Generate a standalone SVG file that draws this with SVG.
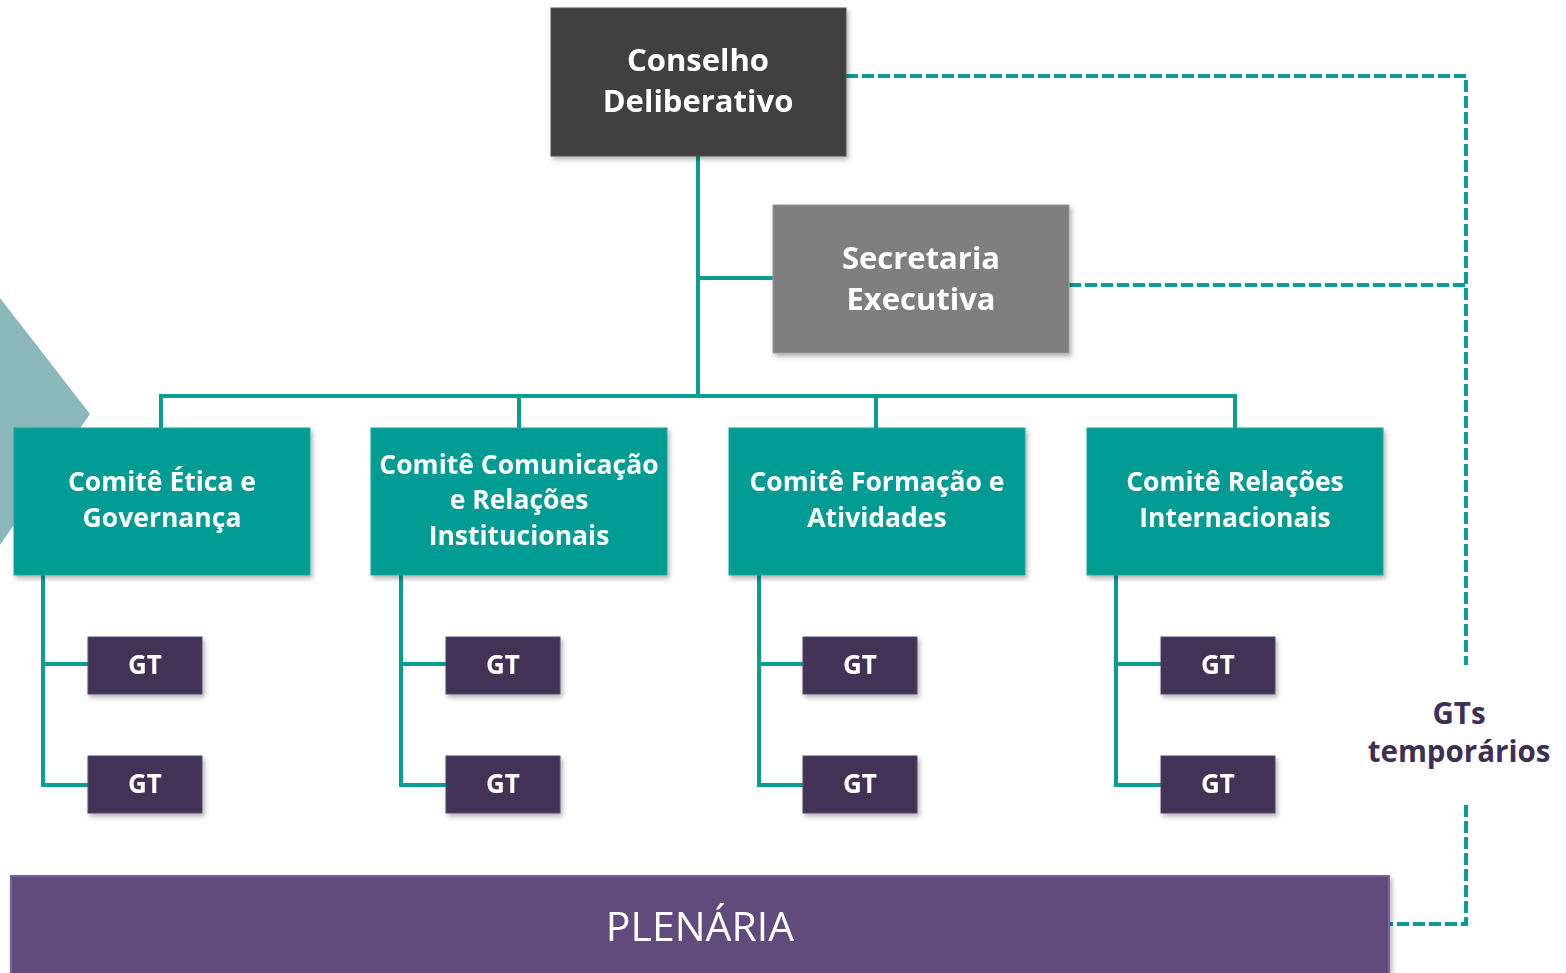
<svg xmlns="http://www.w3.org/2000/svg" width="1566" height="973" viewBox="0 0 1566 973">
<style>
.t{font-family:"Open Sans","Noto Sans",sans-serif;font-weight:bold;fill:#fff;text-anchor:middle}
.big{font-size:31px}
.com{font-size:26.5px}
.gt{font-size:26px}
.sol{stroke:#0a9d94;stroke-width:4;fill:none}
.dash{stroke:#0a9d94;stroke-width:4;fill:none;stroke-dasharray:12 4}
.cbox{fill:#069b93;stroke:#1aa9a0;stroke-width:1}
.gbox{fill:#433254;stroke:#5a4870;stroke-width:1}
</style>
<defs>
<filter id="sh" x="-10%" y="-10%" width="125%" height="130%">
<feDropShadow dx="2" dy="3" stdDeviation="2.5" flood-color="#000" flood-opacity="0.3"/>
</filter>
</defs>
<rect width="1566" height="973" fill="#fff"/>
<polygon points="0,298 90,414 0,545" fill="#8db8bb"/>
<g id="connectors">
<path class="sol" d="M698 156 V396 M698 278 H773 M161 428 V396 H1235 V428 M519 396 V428 M876 396 V428"/>
<path class="sol" d="M43 575 V785 H88 M43 664 H88"/>
<path class="sol" d="M401 575 V785 H446 M401 664 H446"/>
<path class="sol" d="M759 575 V785 H803 M759 664 H803"/>
<path class="sol" d="M1116 575 V785 H1161 M1116 664 H1161"/>
<path class="dash" d="M846 76 H1466 V665 M1069 285 H1466"/>
<path class="dash" d="M1466 805 V924 H1389"/>
</g>
<g id="conselho" filter="url(#sh)">
<rect x="551" y="8" width="295" height="148" fill="#404040" stroke="#555" stroke-width="1"/>
<text class="t big" x="698" y="71">Conselho</text>
<text class="t big" x="698" y="112">Deliberativo</text>
</g>
<g id="secretaria" filter="url(#sh)">
<rect x="773" y="205" width="296" height="148" fill="#7f7f7f" stroke="#999" stroke-width="1"/>
<text class="t big" x="921" y="269">Secretaria</text>
<text class="t big" x="921" y="310">Executiva</text>
</g>
<g id="comite1" filter="url(#sh)">
<rect class="cbox" x="14" y="428" width="296" height="147"/>
<text class="t com" x="162" y="491">Comitê Ética e</text>
<text class="t com" x="162" y="527">Governança</text>
</g>
<g id="comite2" filter="url(#sh)">
<rect class="cbox" x="371" y="428" width="296" height="147"/>
<text class="t com" x="519" y="474">Comitê Comunicação</text>
<text class="t com" x="519" y="509">e Relações</text>
<text class="t com" x="519" y="545">Institucionais</text>
</g>
<g id="comite3" filter="url(#sh)">
<rect class="cbox" x="729" y="428" width="296" height="147"/>
<text class="t com" x="877" y="491">Comitê Formação e</text>
<text class="t com" x="877" y="527">Atividades</text>
</g>
<g id="comite4" filter="url(#sh)">
<rect class="cbox" x="1087" y="428" width="296" height="147"/>
<text class="t com" x="1235" y="491">Comitê Relações</text>
<text class="t com" x="1235" y="527">Internacionais</text>
</g>
<g id="gt1a" filter="url(#sh)"><rect class="gbox" x="88" y="637" width="114" height="57"/><text class="t gt" x="145" y="674">GT</text></g>
<g id="gt1b" filter="url(#sh)"><rect class="gbox" x="88" y="756" width="114" height="57"/><text class="t gt" x="145" y="793">GT</text></g>
<g id="gt2a" filter="url(#sh)"><rect class="gbox" x="446" y="637" width="114" height="57"/><text class="t gt" x="503" y="674">GT</text></g>
<g id="gt2b" filter="url(#sh)"><rect class="gbox" x="446" y="756" width="114" height="57"/><text class="t gt" x="503" y="793">GT</text></g>
<g id="gt3a" filter="url(#sh)"><rect class="gbox" x="803" y="637" width="114" height="57"/><text class="t gt" x="860" y="674">GT</text></g>
<g id="gt3b" filter="url(#sh)"><rect class="gbox" x="803" y="756" width="114" height="57"/><text class="t gt" x="860" y="793">GT</text></g>
<g id="gt4a" filter="url(#sh)"><rect class="gbox" x="1161" y="637" width="114" height="57"/><text class="t gt" x="1218" y="674">GT</text></g>
<g id="gt4b" filter="url(#sh)"><rect class="gbox" x="1161" y="756" width="114" height="57"/><text class="t gt" x="1218" y="793">GT</text></g>
<g id="gts-temporarios">
<text class="t" x="1459" y="724" style="font-size:29.5px;fill:#3f2f55">GTs</text>
<text class="t" x="1459" y="762" style="font-size:29.5px;fill:#3f2f55">temporários</text>
</g>
<g id="plenaria" filter="url(#sh)">
<rect x="11" y="876" width="1378" height="105" fill="#614c7c" stroke="#7e62a6" stroke-width="2"/>
<text x="700" y="941" style="font-family:'Open Sans','Noto Sans',sans-serif;font-size:41px;fill:#fff;text-anchor:middle">PLENÁRIA</text>
</g>
</svg>
